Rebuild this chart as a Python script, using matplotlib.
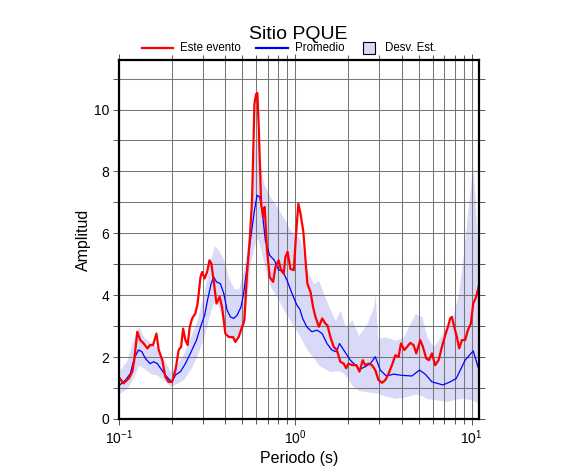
import matplotlib
matplotlib.use("Agg")
import matplotlib.pyplot as plt
import numpy as np
from matplotlib.lines import Line2D
from matplotlib.patches import Rectangle
from matplotlib.ticker import LogLocator, MultipleLocator, NullFormatter

plt.rcParams['font.family'] = ['Liberation Sans', 'DejaVu Sans']
plt.rcParams['mathtext.fontset'] = 'custom'
plt.rcParams['mathtext.rm'] = 'Liberation Sans'
plt.rcParams['mathtext.it'] = 'Liberation Sans:italic'

# ---- data ----
red_period = [0.101, 0.106, 0.114, 0.119, 0.122, 0.127, 0.132, 0.138, 0.145, 0.150,
              0.156, 0.163, 0.168, 0.176, 0.183, 0.191, 0.200, 0.209, 0.218, 0.225,
              0.231, 0.238, 0.245, 0.252, 0.260, 0.271, 0.279, 0.290, 0.296, 0.306,
              0.316, 0.326, 0.334, 0.344, 0.357, 0.372, 0.384, 0.401, 0.419, 0.443,
              0.457, 0.477, 0.499, 0.514, 0.532, 0.551, 0.568, 0.586, 0.599, 0.609,
              0.620, 0.640, 0.656, 0.670, 0.691, 0.715, 0.748, 0.771, 0.804, 0.830,
              0.859, 0.878, 0.904, 0.937, 0.98, 1.01, 1.04, 1.07, 1.11, 1.14,
              1.17, 1.22, 1.26, 1.30, 1.36, 1.42, 1.48, 1.52, 1.58, 1.65,
              1.72, 1.80, 1.88, 1.94, 2.00, 2.10, 2.22, 2.31, 2.41, 2.49,
              2.60, 2.72, 2.84, 2.96, 3.10, 3.24, 3.38, 3.53, 3.69, 3.85,
              3.97, 4.15, 4.30, 4.48, 4.68, 4.85, 5.11, 5.29, 5.52, 5.72,
              5.95, 6.21, 6.49, 6.78, 7.08, 7.33, 7.55, 7.72, 7.96, 8.24,
              8.49, 8.80, 9.18, 9.51, 9.89, 10.2, 10.6, 11.0]
red_amp = [1.31, 1.15, 1.32, 1.53, 1.90, 2.82, 2.55, 2.44, 2.28, 2.39,
           2.39, 2.76, 2.23, 1.90, 1.37, 1.20, 1.20, 1.58, 2.23, 2.33,
           2.92, 2.55, 2.39, 2.98, 3.25, 3.41, 3.73, 4.59, 4.75, 4.54,
           4.75, 5.13, 5.02, 4.48, 3.73, 3.95, 3.62, 2.76, 2.65, 2.65,
           2.49, 2.65, 2.98, 3.19, 4.70, 5.77, 7.06, 10.18, 10.50, 10.53,
           9.43, 6.96, 6.53, 6.85, 5.45, 4.59, 4.43, 4.91, 5.13, 4.80,
           4.70, 5.23, 5.40, 4.85, 4.81, 5.99, 6.96, 6.63, 6.05, 5.20,
           4.37, 4.10, 3.62, 3.30, 2.98, 3.25, 3.08, 3.03, 2.65, 2.33,
           2.23, 1.85, 1.79, 1.64, 1.79, 1.74, 1.74, 1.53, 1.90, 1.74,
           1.79, 1.74, 1.58, 1.26, 1.17, 1.26, 1.47, 1.74, 2.06, 2.01,
           2.44, 2.23, 2.33, 2.46, 2.39, 2.12, 2.55, 2.33, 1.96, 1.90,
           2.12, 1.74, 1.90, 2.33, 2.71, 2.98, 3.25, 3.30, 2.98, 2.65,
           2.28, 2.55, 2.55, 2.87, 3.08, 3.73, 3.95, 4.32]

blue_period = [0.101, 0.109, 0.116, 0.122, 0.129, 0.135, 0.141, 0.150, 0.157, 0.165,
               0.172, 0.183, 0.194, 0.200, 0.209, 0.223, 0.238, 0.254, 0.275, 0.292,
               0.306, 0.319, 0.333, 0.344, 0.357, 0.376, 0.393, 0.410, 0.428, 0.447,
               0.467, 0.492, 0.509, 0.532, 0.556, 0.586, 0.607, 0.628, 0.648, 0.676,
               0.715, 0.760, 0.804, 0.841, 0.897, 0.958, 1.02, 1.06, 1.10, 1.16,
               1.24, 1.33, 1.42, 1.51, 1.61, 1.71, 1.78, 1.88, 2.05, 2.19,
               2.31, 2.49, 2.66, 2.84, 3.03, 3.28, 3.61, 4.02, 4.58, 5.06,
               5.45, 5.95, 6.87, 7.55, 8.17, 9.18, 10.2, 11.0]
blue_amp = [1.10, 1.26, 1.47, 1.96, 2.23, 2.17, 1.96, 1.79, 1.85, 1.79,
            1.64, 1.42, 1.26, 1.20, 1.42, 1.53, 1.79, 2.12, 2.55, 3.03,
            3.35, 3.89, 4.37, 4.59, 4.43, 4.37, 4.05, 3.52, 3.30, 3.25,
            3.35, 3.62, 4.05, 4.91, 5.77, 6.74, 7.23, 7.17, 6.74, 5.77,
            5.29, 5.13, 4.81, 4.81, 4.48, 4.05, 3.68, 3.55, 3.25, 2.98,
            2.82, 2.87, 2.76, 2.44, 2.23, 2.17, 2.44, 2.23, 1.90, 1.74,
            1.60, 1.69, 1.79, 2.01, 1.58, 1.39, 1.45, 1.41, 1.39, 1.58,
            1.45, 1.20, 1.10, 1.20, 1.31, 1.90, 2.20, 1.58]

band_period = [0.101, 0.1112, 0.1213, 0.1295, 0.1382, 0.1509, 0.1646, 0.1794, 0.1957, 0.2136,
               0.2329, 0.2541, 0.2773, 0.3022, 0.3299, 0.3476, 0.3676, 0.3924, 0.4188, 0.4471,
               0.4773, 0.5094, 0.5325, 0.5559, 0.5802, 0.6012, 0.6195, 0.6613, 0.7217, 0.7874,
               0.8586, 0.9369, 1.067, 1.165, 1.270, 1.355, 1.447, 1.579, 1.685, 1.799,
               1.920, 2.096, 2.284, 2.549, 2.777, 2.840, 2.927, 3.236, 3.686, 4.108,
               4.385, 4.786, 5.223, 5.574, 6.076, 6.630, 7.235, 7.886, 8.419, 8.985,
               9.592, 10.16, 10.47, 11.0]
band_low = [0.83, 0.99, 1.37, 1.74, 1.64, 1.47, 1.42, 1.25, 1.05, 1.15,
            1.28, 1.60, 2.05, 2.65, 3.46, 3.84, 3.62, 3.08, 2.65, 2.55,
            2.65, 2.98, 4.05, 5.02, 5.50, 5.85, 5.75, 5.05, 4.27, 3.95,
            3.52, 3.17, 2.65, 2.23, 1.98, 1.75, 1.64, 1.53, 1.56, 1.55,
            1.42, 1.10, 0.92, 0.88, 0.85, 0.84, 0.83, 0.74, 0.67, 0.70,
            0.74, 0.81, 0.75, 0.66, 0.63, 0.60, 0.56, 0.62, 0.66, 0.66,
            0.64, 0.60, 0.57, 0.50]
band_high = [1.58, 1.90, 2.65, 2.98, 2.65, 2.44, 2.33, 1.90, 1.53, 1.79,
             2.12, 2.65, 3.19, 4.05, 5.13, 5.61, 5.45, 5.15, 4.55, 4.22,
             4.20, 4.80, 5.56, 6.53, 8.35, 9.43, 8.57, 7.60, 7.17, 6.85,
             6.50, 6.10, 5.80, 4.81, 4.37, 4.48, 4.05, 3.52, 3.19, 3.52,
             2.98, 3.20, 2.70, 3.08, 3.62, 4.05, 2.60, 2.65, 2.55, 2.65,
             2.98, 3.41, 3.30, 2.65, 2.33, 2.65, 2.98, 3.41, 4.05, 5.35,
             6.96, 8.14, 7.06, 4.59]

title = "Sitio PQUE"
legend_labels = ["Este evento", "Promedio", "Desv. Est."]
xlabel = "Periodo (s)"
ylabel = "Amplitud"

red_color = "#ff0000"
blue_color = "#0000ff"
band_color = "#d9d9f8"

W, H = 586, 475
fig = plt.figure(figsize=(W / 100, H / 100), dpi=100)
ax = fig.add_axes([119 / W, 56 / H, 360 / W, 359 / H])

ax.fill_between(band_period, band_low, band_high, color=band_color, lw=0, zorder=1)
ax.plot(blue_period, blue_amp, color=blue_color, lw=0.9, zorder=3)
ax.plot(red_period, red_amp, color=red_color, lw=1.6, zorder=4)

ax.set_xscale("log")
ax.set_xlim(0.1, 11.0)
ax.set_ylim(0, 11.6)

ax.xaxis.set_major_locator(LogLocator(base=10, numticks=10))
ax.xaxis.set_minor_locator(LogLocator(base=10, subs=np.arange(2, 10), numticks=20))
ax.xaxis.set_minor_formatter(NullFormatter())
ax.yaxis.set_major_locator(MultipleLocator(2))
ax.yaxis.set_minor_locator(MultipleLocator(1))

ax.set_axisbelow('line')
ax.grid(True, which="both", color="#767676", lw=0.75, zorder=2)

for s in ax.spines.values():
    s.set_linewidth(1.6)
    s.set_color("black")
    s.set_zorder(5)

ax.tick_params(axis="both", which="both", direction="out", color="#555555",
               top=True, right=True, labelsize=10, width=0.7)
ax.tick_params(axis="both", which="major", length=4.5, pad=2.5)
ax.tick_params(axis="both", which="minor", length=3.5)
ax.tick_params(axis="y", which="minor", length=4.5)

ax.set_xlabel(xlabel, fontsize=11.5, labelpad=3)
ax.set_ylabel(ylabel, fontsize=11.5, labelpad=2)

fig.text(298 / W, 1 - 34.5 / H, title, ha="center", va="center", fontsize=14)

# legend row above the frame
ly = 1 - 48 / H
fig.add_artist(Line2D([142 / W, 173 / W], [ly, ly], color=red_color, lw=1.6,
                      transform=fig.transFigure))
fig.text(180 / W, ly, legend_labels[0], ha="left", va="center", fontsize=8.3)
fig.add_artist(Line2D([256 / W, 288 / W], [ly, ly], color=blue_color, lw=1.6,
                      transform=fig.transFigure))
fig.text(295 / W, ly, legend_labels[1], ha="left", va="center", fontsize=8.3)
fig.add_artist(Rectangle((363 / W, ly - 6 / H), 12 / W, 12 / H, facecolor=band_color,
                         edgecolor="black", lw=0.8, transform=fig.transFigure))
fig.text(385 / W, ly, legend_labels[2], ha="left", va="center", fontsize=8.3)

fig.savefig("out.png", dpi=100)
